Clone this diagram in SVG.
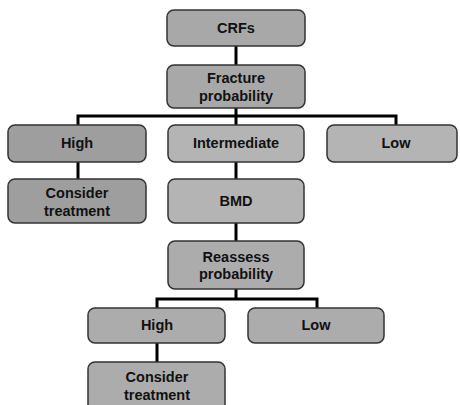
<svg xmlns="http://www.w3.org/2000/svg" width="460" height="405" viewBox="0 0 460 405">
  <style>
    .box { stroke: #333333; stroke-width: 1.5; }
    .dark { fill: #9e9e9e; }
    .mid { fill: #a8a8a8; }
    .light { fill: #b4b4b4; }
    .low2 { fill: #acacac; }
    .lbl { font-family: "Liberation Sans", Arial, sans-serif; font-weight: bold; font-size: 14.5px; fill: #111111; text-anchor: middle; }
    .wire { stroke: #000000; stroke-width: 3; fill: none; }
  </style>
  <rect width="460" height="405" fill="#ffffff"/>

  <!-- connectors -->
  <g id="connectors">
    <line class="wire" x1="236" y1="46" x2="236" y2="65"/>
    <path class="wire" d="M236 108 V116 M78 125 V116 H396 V125 M236 116 V125"/>
    <line class="wire" x1="78" y1="162" x2="78" y2="179"/>
    <line class="wire" x1="236" y1="162" x2="236" y2="179"/>
    <line class="wire" x1="236" y1="223" x2="236" y2="241"/>
    <path class="wire" d="M236 289 V299 M157 308 V299 H317 V308"/>
    <line class="wire" x1="157" y1="343" x2="157" y2="362"/>
  </g>

  <g id="crfs">
    <rect class="box mid" x="167" y="10" width="138" height="36" rx="7"/>
    <text class="lbl" x="236" y="33">CRFs</text>
  </g>
  <g id="fracture-probability">
    <rect class="box mid" x="167" y="65" width="138" height="43" rx="7"/>
    <text class="lbl" x="236" y="83">Fracture</text>
    <text class="lbl" x="236" y="101">probability</text>
  </g>
  <g id="high">
    <rect class="box dark" x="8" y="125" width="138" height="37" rx="7"/>
    <text class="lbl" x="77" y="148">High</text>
  </g>
  <g id="intermediate">
    <rect class="box light" x="168" y="125" width="136" height="37" rx="7"/>
    <text class="lbl" x="236" y="148">Intermediate</text>
  </g>
  <g id="low">
    <rect class="box light" x="327" y="125" width="130" height="37" rx="7"/>
    <text class="lbl" x="396" y="148">Low</text>
  </g>
  <g id="consider-treatment">
    <rect class="box dark" x="8" y="179" width="138" height="44" rx="7"/>
    <text class="lbl" x="77" y="198">Consider</text>
    <text class="lbl" x="77" y="216">treatment</text>
  </g>
  <g id="bmd">
    <rect class="box light" x="168" y="179" width="136" height="44" rx="7"/>
    <text class="lbl" x="236" y="206">BMD</text>
  </g>
  <g id="reassess-probability">
    <rect class="box low2" x="168" y="241" width="136" height="48" rx="7"/>
    <text class="lbl" x="236" y="262">Reassess</text>
    <text class="lbl" x="236" y="279">probability</text>
  </g>
  <g id="high-2">
    <rect class="box low2" x="88" y="308" width="137" height="35" rx="7"/>
    <text class="lbl" x="157" y="330">High</text>
  </g>
  <g id="low-2">
    <rect class="box low2" x="248" y="308" width="136" height="35" rx="7"/>
    <text class="lbl" x="316" y="330">Low</text>
  </g>
  <g id="consider-treatment-2">
    <rect class="box low2" x="88" y="362" width="137" height="50" rx="7"/>
    <text class="lbl" x="157" y="382">Consider</text>
    <text class="lbl" x="157" y="400">treatment</text>
  </g>
</svg>
